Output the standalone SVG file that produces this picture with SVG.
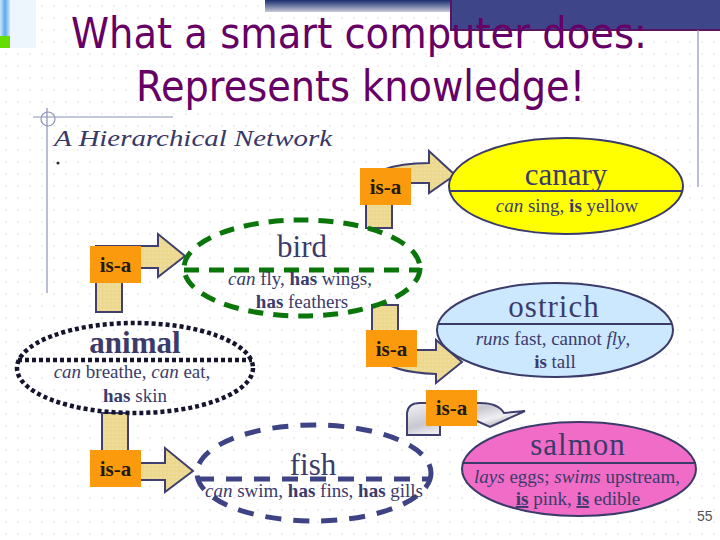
<svg xmlns="http://www.w3.org/2000/svg" width="720" height="540" viewBox="0 0 720 540">
<defs>
<pattern id="grid" width="12" height="12" patternUnits="userSpaceOnUse"><circle cx="6" cy="6" r="0.7" fill="#d4d6e0"/></pattern>
<pattern id="tan" width="4" height="4" patternUnits="userSpaceOnUse"><rect width="4" height="4" fill="#ecd88e"/><circle cx="1" cy="1" r="0.6" fill="#f8f0d0"/></pattern>
<linearGradient id="blueStripe" x1="0" y1="0" x2="1" y2="0"><stop offset="0" stop-color="#cfe6fb"/><stop offset="0.5" stop-color="#5aa8ee"/><stop offset="1" stop-color="#cfe6fb"/></linearGradient>
<linearGradient id="photo" x1="0" y1="0" x2="1" y2="1"><stop offset="0" stop-color="#f4f4f6"/><stop offset="0.4" stop-color="#c8c8d0"/><stop offset="0.6" stop-color="#f0f0f4"/><stop offset="0.8" stop-color="#9a9aa4"/><stop offset="1" stop-color="#f6f6f8"/></linearGradient>
<linearGradient id="strip" x1="0" y1="0" x2="0" y2="1"><stop offset="0" stop-color="#1d2f6e"/><stop offset="0.3" stop-color="#4a5a8e"/><stop offset="1" stop-color="#c9ccd6"/></linearGradient>
</defs>
<style>
.ttl{font-size:42px;fill:#660066}
.name{font-size:31px;fill:#3b3b6b;text-anchor:middle}
.prop{font-size:19px;fill:#3b3b6b;text-anchor:middle}
.i{font-style:italic}
.b{font-weight:bold}
.arrow{fill:url(#tan);stroke:#404070;stroke-width:2;stroke-linejoin:miter}
.isa rect{fill:#fb9a0c}
.isa text{font-size:21px;font-weight:bold;fill:#221a10;text-anchor:middle}
.deco{stroke:#8a92b8;stroke-width:1.2;fill:none}
</style>
<rect width="720" height="540" fill="#ffffff"/>
<rect width="720" height="540" fill="url(#grid)"/>

<rect x="10" y="0" width="26" height="48" fill="#eef6fd"/>
<rect x="0" y="0" width="10" height="36" fill="url(#blueStripe)"/>
<rect x="0" y="36" width="10" height="12" fill="#66dd00"/>
<rect x="265" y="0" width="185" height="12" fill="url(#strip)"/>
<rect x="451" y="-2" width="271" height="32" fill="#3f4589" stroke="#5a1464" stroke-width="2"/>
<line class="deco" x1="698" y1="30" x2="698" y2="187"/>
<line class="deco" x1="47" y1="108" x2="47" y2="293"/>
<line class="deco" x1="33" y1="117" x2="173" y2="117"/>
<circle class="deco" cx="48" cy="119" r="7"/>
<circle cx="58" cy="163" r="1.6" fill="#333"/>

<g font-family="DejaVu Sans, sans-serif">
<text class="ttl" x="71" y="48" textLength="576" lengthAdjust="spacingAndGlyphs">What a smart computer does:</text>
<text class="ttl" x="136" y="101" textLength="449" lengthAdjust="spacingAndGlyphs">Represents knowledge!</text>
</g>

<g font-family="Liberation Serif, serif">
<text x="54" y="146" font-size="24" font-style="italic" fill="#383868" textLength="278" lengthAdjust="spacingAndGlyphs">A Hierarchical Network</text>

<g id="connectors">
  <path class="arrow" d="M96,312 V246 H158 V234 L185,256 L158,277 V268 H122 V312 Z"/>
  <path class="arrow" d="M366,228 V190 C366,172 392,163 429,163 V151 L455,175 L429,193 V183 H392 V228 Z"/>
  <path class="arrow" d="M102,413 H128 V463 H165 V448 L193,471 L165,492 V480 H102 Z"/>
  <path class="arrow" d="M372,305 H398 V350 H436 V340 L462,362 L436,383 V374 C410,373 385,369 372,352 Z"/>
  <path d="M407,435 V413 Q408,403 420,403 L480,403 Q498,403 504,413 L525,411 L490,427 L477,421 L440,421 L440,435 Z" fill="url(#photo)" stroke="#404070" stroke-width="2"/>
  <g class="isa"><rect x="90" y="246" width="51" height="37"/><text x="115.5" y="272">is-a</text></g>
  <g class="isa"><rect x="360" y="168" width="51" height="37"/><text x="385.5" y="194">is-a</text></g>
  <g class="isa"><rect x="90" y="450" width="51" height="37"/><text x="115.5" y="476">is-a</text></g>
  <g class="isa"><rect x="366" y="330" width="51" height="37"/><text x="391.5" y="356">is-a</text></g>
  <g class="isa"><rect x="426" y="390" width="51" height="36"/><text x="451.5" y="415">is-a</text></g>
</g>

<g id="canary">
  <ellipse cx="566" cy="186" rx="117" ry="48" fill="#ffff00" stroke="#3b3b6b" stroke-width="2"/>
  <line x1="449" y1="191" x2="683" y2="191" stroke="#3b3b6b" stroke-width="2"/>
  <text class="name" x="566" y="185" fill="#3e3e50">canary</text>
  <text class="prop" x="567" y="212"><tspan class="i">can</tspan> sing, <tspan class="b">is</tspan> yellow</text>
</g>
<g id="bird">
  <ellipse cx="302" cy="268" rx="118" ry="48" fill="none" stroke="#0a760a" stroke-width="5" stroke-dasharray="15 10"/>
  <line x1="184" y1="270" x2="420" y2="270" stroke="#0a760a" stroke-width="5" stroke-dasharray="15 10"/>
  <text class="name" x="302" y="257" font-size="32">bird</text>
  <text class="prop" x="300" y="285" font-size="18"><tspan class="i">can</tspan> fly, <tspan class="b">has</tspan> wings,</text>
  <text class="prop" x="302" y="308" font-size="18"><tspan class="b">has</tspan> feathers</text>
</g>
<g id="animal">
  <ellipse cx="135" cy="368" rx="118" ry="45" fill="none" stroke="#14142e" stroke-width="4.5" stroke-dasharray="4 3"/>
  <line x1="18" y1="360" x2="252" y2="360" stroke="#14142e" stroke-width="4.5" stroke-dasharray="4 3"/>
  <text class="name b" x="135" y="353" font-size="24">animal</text>
  <text class="prop" x="132" y="378"><tspan class="i">can</tspan> breathe, <tspan class="i">can</tspan> eat,</text>
  <text class="prop" x="135" y="402"><tspan class="b">has</tspan> skin</text>
</g>
<g id="ostrich">
  <ellipse cx="555" cy="330" rx="118" ry="47" fill="#cce8ff" stroke="#3b3b6b" stroke-width="2"/>
  <line x1="438" y1="324" x2="672" y2="324" stroke="#3b3b6b" stroke-width="2"/>
  <text class="name" x="554" y="317" letter-spacing="1">ostrich</text>
  <text class="prop" x="553" y="345"><tspan class="i">runs</tspan> fast, cannot <tspan class="i">fly</tspan>,</text>
  <text class="prop" x="555" y="368"><tspan class="b">is</tspan> tall</text>
</g>
<g id="fish">
  <ellipse cx="314" cy="473" rx="117" ry="48" fill="none" stroke="#3d4384" stroke-width="5" stroke-dasharray="16 12"/>
  <line x1="198" y1="479" x2="430" y2="479" stroke="#3d4384" stroke-width="5" stroke-dasharray="16 12"/>
  <text class="name" x="313" y="475">fish</text>
  <text class="prop" x="314" y="497" font-size="14"><tspan class="i">can</tspan> swim, <tspan class="b">has</tspan> fins, <tspan class="b">has</tspan> gills</text>
</g>
<g id="salmon">
  <ellipse cx="579" cy="469" rx="117" ry="47" fill="#f06cc6" stroke="#3b3b6b" stroke-width="2"/>
  <line x1="462" y1="463" x2="696" y2="463" stroke="#3b3b6b" stroke-width="2"/>
  <text class="name" x="578" y="455" letter-spacing="1">salmon</text>
  <text class="prop" x="577" y="483"><tspan class="i">lays</tspan> eggs; <tspan class="i">swims</tspan> upstream,</text>
  <text class="prop" x="578" y="505"><tspan class="b" text-decoration="underline">is</tspan> pink, <tspan class="b" text-decoration="underline">is</tspan> edible</text>
</g>
</g>
<text x="697" y="521" font-family="Liberation Sans, Arial, sans-serif" font-size="14" fill="#555">55</text>
</svg>
